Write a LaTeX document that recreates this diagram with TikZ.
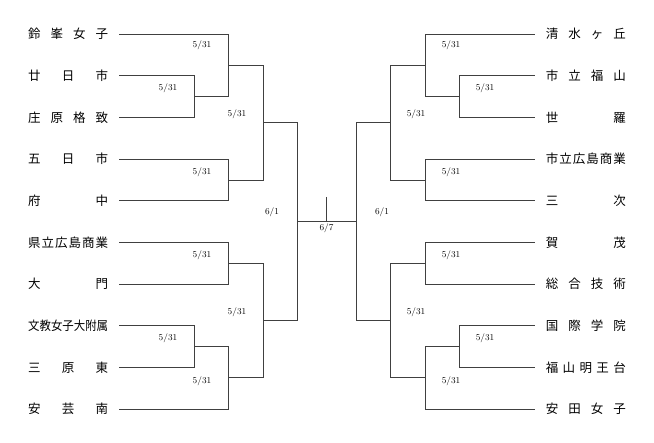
\documentclass[tikz,border=0pt]{standalone}
\usepackage{fontspec}
\usepackage{graphicx}
\newfontfamily\jpfont{Noto Sans CJK JP}

\tikzset{
	team/.style={inner sep=0pt,font=\jpfont\fontsize{12.5}{12.5}\selectfont},
	day/.style={inner sep=0pt,font=\fontsize{9}{9}\selectfont},
	line/.style={draw=black!75,line width=0.6pt}
}
\newcommand\sname[1]{\makebox[80pt][s]{#1}}

\begin{document}
\begin{tikzpicture}[x=1pt,y=-1pt]
		\useasboundingbox (0,0) rectangle (654,443);

		\node[team,anchor=west] (l1) at (28,34.0) {\sname{鈴\hfill 峯\hfill 女\hfill 子}};
		\node[team,anchor=west] (l2) at (28,75.7) {\sname{廿\hfill 日\hfill 市}};
		\node[team,anchor=west] (l3) at (28,117.3) {\sname{庄\hfill 原\hfill 格\hfill 致}};
		\node[team,anchor=west] (l4) at (28,159.0) {\sname{五\hfill 日\hfill 市}};
		\node[team,anchor=west] (l5) at (28,200.7) {\sname{府\hfill 中}};
		\node[team,anchor=west] (l6) at (28,242.3) {\sname{県\hfill 立\hfill 広\hfill 島\hfill 商\hfill 業}};
		\node[team,anchor=west] (l7) at (28,284.0) {\sname{大\hfill 門}};
		\node[team,anchor=west] (l8) at (28,325.7) {\scalebox{.914}[1]{文教女子大附属}};
		\node[team,anchor=west] (l9) at (28,367.3) {\sname{三\hfill 原\hfill 東}};
		\node[team,anchor=west] (l10) at (28,409.0) {\sname{安\hfill 芸\hfill 南}};

		\node[team,anchor=east] (r1) at (626,34.0) {\sname{清\hfill 水\hfill ヶ\hfill 丘}};
		\node[team,anchor=east] (r2) at (626,75.7) {\sname{市\hfill 立\hfill 福\hfill 山}};
		\node[team,anchor=east] (r3) at (626,117.3) {\sname{世\hfill 羅}};
		\node[team,anchor=east] (r4) at (626,159.0) {\sname{市\hfill 立\hfill 広\hfill 島\hfill 商\hfill 業}};
		\node[team,anchor=east] (r5) at (626,200.7) {\sname{三\hfill 次}};
		\node[team,anchor=east] (r6) at (626,242.3) {\sname{賀\hfill 茂}};
		\node[team,anchor=east] (r7) at (626,284.0) {\sname{総\hfill 合\hfill 技\hfill 術}};
		\node[team,anchor=east] (r8) at (626,325.7) {\sname{国\hfill 際\hfill 学\hfill 院}};
		\node[team,anchor=east] (r9) at (626,367.3) {\sname{福\hfill 山\hfill 明\hfill 王\hfill 台}};
		\node[team,anchor=east] (r10) at (626,409.0) {\sname{安\hfill 田\hfill 女\hfill 子}};

		\coordinate (la) at (228,65.3);
		\coordinate (lb) at (194,96.5);
		\coordinate (lc) at (228,179.9);
		\coordinate (ld) at (263,122.6);
		\coordinate (le) at (228,263.2);
		\coordinate (lf) at (194,346.5);
		\coordinate (lg) at (228,377.8);
		\coordinate (lh) at (263,320.5);
		\coordinate (lk) at (297,221.5);

		\coordinate (ra) at (425,65.3);
		\coordinate (rb) at (459,96.5);
		\coordinate (rc) at (425,179.9);
		\coordinate (rd) at (390.5,122.6);
		\coordinate (re) at (425,263.2);
		\coordinate (rf) at (459,346.5);
		\coordinate (rg) at (425,377.8);
		\coordinate (rh) at (390.5,320.5);
		\coordinate (rk) at (356,221.5);

		\coordinate (final) at (326.5,197);

		\foreach \s in {l,r} {
			\foreach \a/\b in {1/a,2/b,3/b,4/c,5/c,6/e,7/e,8/f,9/f,10/g}
				\draw[line,shorten <=11pt] (\s\a) -| (\s\b);
			\foreach \a/\b in {b/a,a/d,c/d,f/g,e/h,g/h,d/k,h/k}
				\draw[line] (\s\a) -| (\s\b);
		}
		\draw[line] (lk) -- (rk);
		\draw[line] (final) -- (final |- lk);

		\foreach \x/\y [count=\i] in {202/45,168/88,237/114,202/172,202/255,168/338,237/312,202/381}
			\node[day] (dl\i) at (\x,\y) {5/31};
		\foreach \x/\y [count=\i] in {451/45,485/88,416/114,451/172,451/255,485/338,416/312,451/381}
			\node[day] (dr\i) at (\x,\y) {5/31};
		\node[day] (sl) at (272,212) {6/1};
		\node[day] (sr) at (382,212) {6/1};
		\node[day] (fin) at (326.5,228.5) {6/7};
	\end{tikzpicture}
\end{document}
